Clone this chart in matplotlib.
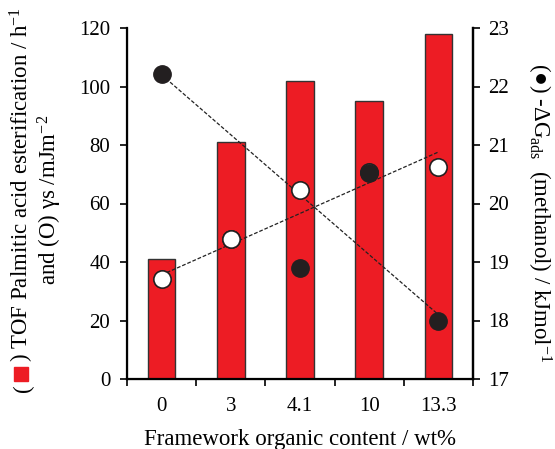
import matplotlib
matplotlib.use("Agg")
import matplotlib.pyplot as plt
import numpy as np
from matplotlib.lines import Line2D

plt.rcParams['font.family'] = ['Liberation Serif', 'DejaVu Serif']
plt.rcParams['mathtext.fontset'] = 'custom'
plt.rcParams['mathtext.rm'] = 'Liberation Serif'
plt.rcParams['mathtext.it'] = 'Liberation Serif:italic'

categories = ["0", "3", "4.1", "10", "13.3"]
tof = [41, 81, 102, 95, 118]
gamma_s = [34.2, 47.9, 64.6, 70.9, 72.4]
dg_ads = [22.21, 19.4, 18.89, 20.52, 18.0]
gamma_trend = [35.6, 77.6]
dg_trend = [22.2, 18.1]

W, H = 555, 449
fig = plt.figure(figsize=(W / 100, H / 100), dpi=100)
ax = fig.add_axes([127 / W, 1 - 379 / H, 346 / W, 351 / H])
x = np.arange(len(categories))

ax.bar(x, tof, width=0.4, color='#ED1C24', edgecolor='#333333', linewidth=1.0, zorder=2)
ax.set_xlim(-0.5, 4.5)
ax.set_ylim(0, 120)
ax.set_yticks(np.arange(0, 121, 20))
ax.set_xticks(x)
ax.set_xticklabels(categories)
ax.set_xticks(np.arange(-0.5, 4.6, 1), minor=True)
ax.tick_params(axis='x', which='major', length=0, labelsize=15, pad=13)
ax.tick_params(axis='x', which='minor', length=5, width=1.2, direction='out')
ax.tick_params(axis='y', length=5, width=1.2, direction='out', labelsize=15, pad=7)
for s in ['left', 'bottom', 'right']:
    ax.spines[s].set_linewidth(1.6)
ax.spines['top'].set_visible(False)

ax2 = ax.twinx()
ax2.set_ylim(17, 23)
ax2.set_yticks(np.arange(17, 24, 1))
ax2.tick_params(axis='y', length=5, width=1.2, direction='out', labelsize=15, pad=6)
ax2.spines['top'].set_visible(False)
ax2.spines['right'].set_linewidth(1.6)

# trend lines
ax.plot([x[0], x[-1]], gamma_trend, linestyle=(0, (3, 1.5)), color='#222222', linewidth=0.9, zorder=3)
ax2.plot([x[0], x[-1]], dg_trend, linestyle=(0, (3, 1.5)), color='#222222', linewidth=0.9, zorder=3)

# black markers (right axis)
ax2.plot(x, dg_ads, 'o', markersize=12.5, markerfacecolor='#231f20', markeredgecolor='#231f20', zorder=4)
# white markers (left axis values mapped onto right axis for layering)
gam_r = [17 + g / 120 * 6 for g in gamma_s]
ax2.plot(x[:3], gam_r[:3], 'o', markersize=12.5, markerfacecolor='white', markeredgecolor='#231f20', markeredgewidth=1.2, zorder=5)
ax2.plot(x[3:], gam_r[3:], 'o', markersize=12.5, markerfacecolor='white', markeredgecolor='#231f20', markeredgewidth=1.2, zorder=3.5)

ax.set_xlabel("Framework organic content / wt%", fontsize=16.5, labelpad=9)

def px(xp, yp):
    return xp / W, 1 - yp / H

fs = 16.5
fig.text(*px(29, 392), "(", rotation=90, rotation_mode='anchor', ha='left', va='baseline', fontsize=fs)
fig.text(*px(29, 362), ") TOF Palmitic acid esterification / h$^{-1}$",
         rotation=90, rotation_mode='anchor', ha='left', va='baseline', fontsize=fs)
fig.add_artist(Line2D([21 / W], [1 - 374 / H], marker='s', markersize=10,
                      color='#ED1C24', transform=fig.transFigure))
fig.text(*px(57, 200), "and (O) \u03b3s /mJm$^{-2}$",
         rotation=90, rotation_mode='anchor', ha='center', va='baseline', fontsize=fs)
fig.text(*px(532, 213), "(\u25cf) -\u0394G$_{\\mathrm{ads}}$  (methanol) / kJmol$^{-1}$",
         rotation=270, rotation_mode='anchor', ha='center', va='baseline', fontsize=fs)

fig.savefig("out.png", dpi=100)
